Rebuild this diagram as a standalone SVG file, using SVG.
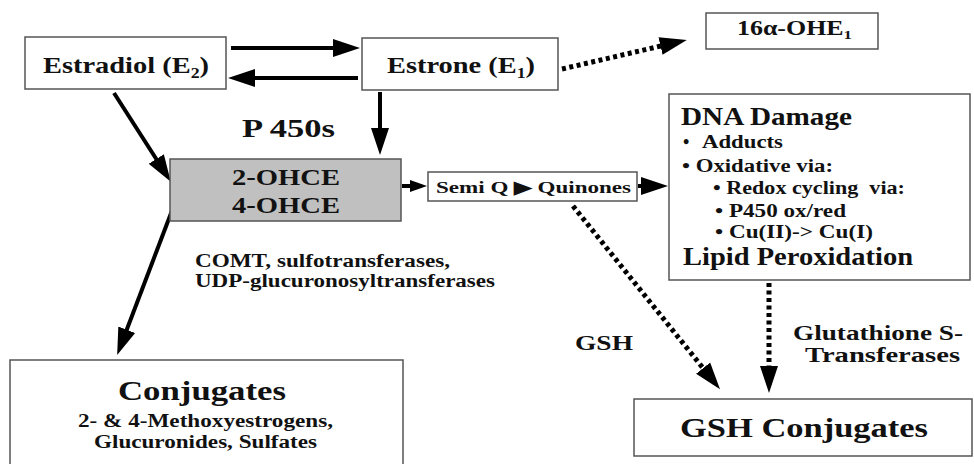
<svg xmlns="http://www.w3.org/2000/svg" width="974" height="464" viewBox="0 0 974 464" font-family="Liberation Serif, serif">
<style>
text{font-weight:bold;fill:#111;}
.box{fill:#fff;stroke:#555;stroke-width:1.5;}
.gray{fill:#c0c0c0;stroke:#555;stroke-width:1.5;}
.sol{stroke:#000;stroke-width:4;fill:none;}
.dot{stroke:#000;stroke-width:5;fill:none;stroke-dasharray:4 3.5;}
</style>
<defs>
<marker id="ah" markerUnits="userSpaceOnUse" markerWidth="28" markerHeight="20" refX="19" refY="10" orient="auto" viewBox="0 0 28 20"><path d="M0,1 L27,10 L0,19 z" fill="#000"/></marker>
<marker id="ahs" markerUnits="userSpaceOnUse" markerWidth="18" markerHeight="14" refX="12" refY="7" orient="auto" viewBox="0 0 18 14"><path d="M0,1 L17,7 L0,13 z" fill="#000"/></marker>
</defs>
<rect width="974" height="464" fill="#fff"/>
<g id="connectors">
<line class="sol" x1="231" y1="48" x2="352" y2="48" marker-end="url(#ah)"/>
<line class="sol" x1="358" y1="78" x2="236" y2="78" marker-end="url(#ah)"/>
<line class="sol" x1="380" y1="92" x2="380" y2="147" marker-end="url(#ah)"/>
<line class="sol" x1="114" y1="93" x2="166.5" y2="175" marker-end="url(#ah)"/>
<line class="sol" x1="173" y1="208" x2="120" y2="347.5" marker-end="url(#ah)"/>
<line class="sol" x1="402" y1="186" x2="422" y2="186" marker-end="url(#ahs)"/>
<line class="sol" x1="638" y1="186" x2="660" y2="186" marker-end="url(#ah)"/>
<line class="dot" x1="562" y1="69" x2="679" y2="41.8" marker-end="url(#ah)"/>
<line class="dot" x1="573" y1="206" x2="715" y2="383" marker-end="url(#ah)"/>
<line class="dot" x1="769" y1="283" x2="769" y2="385" marker-end="url(#ah)"/>
</g>
<g id="estradiol">
<rect class="box" x="25" y="37" width="201" height="52"/>
<text x="43" y="73" font-size="24" textLength="166" lengthAdjust="spacingAndGlyphs">Estradiol (E<tspan font-size="15" dy="5">2</tspan><tspan dy="-5">)</tspan></text>
</g>
<g id="estrone">
<rect class="box" x="362" y="38" width="196" height="52"/>
<text x="387" y="73" font-size="24" textLength="148" lengthAdjust="spacingAndGlyphs">Estrone (E<tspan font-size="15" dy="5">1</tspan><tspan dy="-5">)</tspan></text>
</g>
<g id="p450-label">
<text x="242" y="137" font-size="25" textLength="93" lengthAdjust="spacingAndGlyphs">P 450s</text>
</g>
<g id="ohe16">
<rect class="box" x="706" y="13" width="172" height="36"/>
<text x="737" y="35" font-size="20" textLength="115" lengthAdjust="spacingAndGlyphs">16α-OHE<tspan font-size="13" dy="4">1</tspan></text>
</g>
<g id="ohce">
<rect class="gray" x="170" y="159" width="231" height="62"/>
<text x="232" y="185" font-size="23" textLength="108" lengthAdjust="spacingAndGlyphs">2-OHCE</text>
<text x="232" y="213" font-size="23" textLength="108" lengthAdjust="spacingAndGlyphs">4-OHCE</text>
</g>
<g id="semiq">
<rect class="box" x="428" y="172" width="209" height="29"/>
<text x="436" y="193" font-size="17" textLength="195" lengthAdjust="spacingAndGlyphs">Semi Q ▶ Quinones</text>
</g>
<g id="enzymes-label">
<text x="195" y="267" font-size="18" textLength="255" lengthAdjust="spacingAndGlyphs">COMT, sulfotransferases,</text>
<text x="195" y="287" font-size="18" textLength="300" lengthAdjust="spacingAndGlyphs">UDP-glucuronosyltransferases</text>
</g>
<g id="dna">
<rect class="box" x="669" y="94" width="301" height="186"/>
<text x="681" y="125" font-size="26" textLength="171" lengthAdjust="spacingAndGlyphs">DNA Damage</text>
<text x="683" y="148" font-size="18">•</text>
<text x="702" y="148" font-size="18" textLength="81" lengthAdjust="spacingAndGlyphs">Adducts</text>
<text x="682" y="172" font-size="18" textLength="151" lengthAdjust="spacingAndGlyphs">• Oxidative via:</text>
<text x="713" y="194" font-size="18" textLength="192" lengthAdjust="spacingAndGlyphs" xml:space="preserve">• Redox cycling  via:</text>
<text x="715" y="217" font-size="18" textLength="131" lengthAdjust="spacingAndGlyphs">• P450 ox/red</text>
<text x="715" y="238" font-size="18" textLength="158" lengthAdjust="spacingAndGlyphs">• Cu(II)-&gt; Cu(I)</text>
<text x="683" y="265" font-size="26" textLength="230" lengthAdjust="spacingAndGlyphs">Lipid Peroxidation</text>
</g>
<g id="conjugates">
<rect class="box" x="10" y="360" width="393" height="110"/>
<text x="118" y="400" font-size="27" textLength="168" lengthAdjust="spacingAndGlyphs">Conjugates</text>
<text x="78" y="427" font-size="18" textLength="255" lengthAdjust="spacingAndGlyphs">2- &amp; 4-Methoxyestrogens,</text>
<text x="94" y="448" font-size="18" textLength="223" lengthAdjust="spacingAndGlyphs">Glucuronides, Sulfates</text>
</g>
<g id="gsh-label">
<text x="575" y="350" font-size="22" textLength="58" lengthAdjust="spacingAndGlyphs">GSH</text>
</g>
<g id="gst-label">
<text x="793" y="340" font-size="20" textLength="170" lengthAdjust="spacingAndGlyphs">Glutathione S-</text>
<text x="805" y="362" font-size="20" textLength="155" lengthAdjust="spacingAndGlyphs">Transferases</text>
</g>
<g id="gsh-conjugates">
<rect class="box" x="634" y="399" width="338" height="57"/>
<text x="680" y="437" font-size="28" textLength="248" lengthAdjust="spacingAndGlyphs">GSH Conjugates</text>
</g>
</svg>
